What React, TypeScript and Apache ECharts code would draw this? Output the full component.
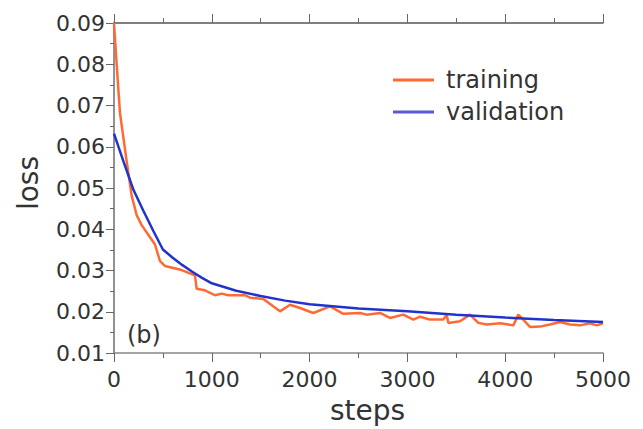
import React, { useEffect, useRef } from "react";
import * as echarts from "echarts";

const trainSteps = [0, 27, 61, 130, 181, 232, 283, 419, 470, 521, 692, 828, 845, 930, 1033, 1101, 1169, 1339, 1391, 1527, 1697, 1800, 1902, 2038, 2209, 2345, 2515, 2584, 2720, 2822, 2958, 3061, 3130, 3231, 3367, 3402, 3419, 3538, 3640, 3725, 3811, 3947, 4083, 4134, 4185, 4254, 4356, 4458, 4560, 4663, 4765, 4867, 4935, 5000];
const trainLoss = [0.09, 0.0801, 0.0682, 0.0564, 0.0481, 0.0434, 0.041, 0.0363, 0.0323, 0.0311, 0.0301, 0.0288, 0.0256, 0.0252, 0.024, 0.0244, 0.024, 0.024, 0.0234, 0.0231, 0.0201, 0.0217, 0.0209, 0.0197, 0.0213, 0.0195, 0.0197, 0.0193, 0.0197, 0.0185, 0.0193, 0.0181, 0.0188, 0.0181, 0.0181, 0.0193, 0.0173, 0.0177, 0.0193, 0.0173, 0.0169, 0.0172, 0.0167, 0.0193, 0.0181, 0.0163, 0.0164, 0.0169, 0.0175, 0.0169, 0.0167, 0.0172, 0.0167, 0.0172];

const valSteps = [0, 100, 200, 300, 400, 500, 600, 700, 800, 900, 1000, 1250, 1500, 1750, 2000, 2500, 3000, 3500, 4000, 4500, 5000];
const valLoss = [0.0632, 0.0562, 0.0495, 0.0445, 0.0397, 0.0351, 0.0331, 0.0313, 0.0297, 0.0282, 0.0269, 0.0251, 0.0238, 0.0227, 0.0218, 0.0208, 0.0201, 0.0193, 0.0186, 0.018, 0.0175];

const xTicks = [0, 1000, 2000, 3000, 4000, 5000];
const yTicks = [0.01, 0.02, 0.03, 0.04, 0.05, 0.06, 0.07, 0.08, 0.09];

const FONT = "DejaVu Sans";
const TXT = "#333333";

export default function App() {
  const ref = useRef<HTMLDivElement>(null);
  useEffect(() => {
    if (!ref.current) return;
    const chart = echarts.init(ref.current, undefined, { renderer: "svg" });
    const train = trainSteps.map((s, i) => [s, trainLoss[i]]);
    const val = valSteps.map((s, i) => [s, valLoss[i]]);
    chart.setOption({
      animation: false,
      backgroundColor: "#ffffff",
      grid: { left: 114, top: 23, right: 40, bottom: 68, containLabel: false },
      legend: {
        left: 388,
        top: 63,
        orient: "vertical",
        itemWidth: 41,
        itemHeight: 3,
        itemGap: 8,
        icon: "rect",
        data: [
          { name: "training", itemStyle: { color: "#ff6a33" } },
          { name: "validation", itemStyle: { color: "#5a5ad8" } },
        ],
        itemStyle: { borderWidth: 0 },
        textStyle: { fontFamily: FONT, fontSize: 24, color: TXT, lineHeight: 24, padding: [0, 0, 0, 7] },
      },
      xAxis: [
        {
          type: "value",
          min: xTicks[0],
          max: xTicks[xTicks.length - 1],
          interval: 1000,
          position: "bottom",
          name: "steps",
          nameLocation: "middle",
          nameGap: 43,
          nameTextStyle: { fontFamily: FONT, fontSize: 28, color: TXT, padding: [0, 0, 0, 18] },
          axisLine: { show: true, lineStyle: { color: "#888888", width: 1.5 } },
          axisTick: { show: true, length: 9, inside: false, lineStyle: { color: "#666666", width: 1 } },
          minorTick: { show: true, splitNumber: 2, length: 5, lineStyle: { color: "#666666", width: 1 } },
          axisLabel: { fontFamily: FONT, fontSize: 22, color: TXT, margin: 15, formatter: (v: number) => String(v) },
          splitLine: { show: false },
        },
        {
          type: "value",
          min: xTicks[0],
          max: xTicks[xTicks.length - 1],
          interval: 1000,
          position: "top",
          axisLine: { show: true, lineStyle: { color: "#555555", width: 1.5 } },
          axisTick: { show: true, length: 9, inside: false, lineStyle: { color: "#666666", width: 1 } },
          minorTick: { show: true, splitNumber: 2, length: 5, lineStyle: { color: "#666666", width: 1 } },
          axisLabel: { show: false },
          splitLine: { show: false },
        },
      ],
      yAxis: [
        {
          type: "value",
          min: yTicks[0],
          max: yTicks[yTicks.length - 1],
          interval: 0.01,
          position: "left",
          name: "loss",
          nameLocation: "middle",
          nameGap: 72,
          nameRotate: 90,
          nameTextStyle: { fontFamily: FONT, fontSize: 28, color: TXT, padding: [0, 0, 0, 10] },
          axisLine: { show: true, lineStyle: { color: "#555555", width: 1.5 } },
          axisTick: { show: true, length: 8, inside: false, lineStyle: { color: "#666666", width: 1 } },
          minorTick: { show: true, splitNumber: 2, length: 4, lineStyle: { color: "#666666", width: 1 } },
          axisLabel: { fontFamily: FONT, fontSize: 22, color: TXT, margin: 9, formatter: (v: number) => v.toFixed(2) },
          splitLine: { show: false },
        },
        {
          type: "value",
          min: yTicks[0],
          max: yTicks[yTicks.length - 1],
          interval: 0.01,
          position: "right",
          axisLine: { show: true, lineStyle: { color: "#999999", width: 1.5 } },
          axisTick: { show: false },
          axisLabel: { show: false },
          splitLine: { show: false },
        },
      ],
      graphic: [
        {
          type: "text",
          left: 127,
          top: 323,
          style: { text: "(b)", fontFamily: FONT, fontSize: 24, fill: TXT },
        },
      ],
      series: [
        {
          name: "training",
          type: "line",
          data: train,
          showSymbol: false,
          symbol: "none",
          lineStyle: { color: "#ff6a33", width: 2.5 },
          itemStyle: { color: "#ff6a33" },
          z: 2,
        },
        {
          name: "validation",
          type: "line",
          data: val,
          showSymbol: false,
          symbol: "none",
          lineStyle: { color: "#2233cc", width: 2.5 },
          itemStyle: { color: "#5a5ad8" },
          z: 3,
        },
      ],
    });
    return () => chart.dispose();
  }, []);
  return <div ref={ref} style={{ position: "absolute", left: 0, top: 0, width: 643, height: 429 }} />;
}
